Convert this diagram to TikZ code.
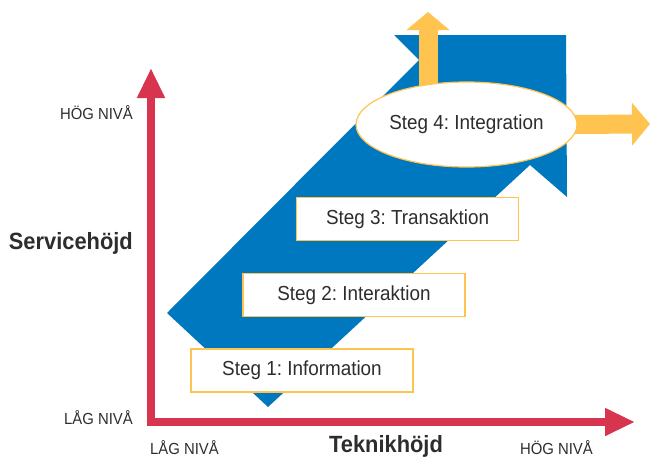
\documentclass[tikz,border=0pt]{standalone}
\usepackage{fontspec}
\setmainfont{Liberation Sans}[FakeStretch=0.93]
\usetikzlibrary{arrows.meta}
\usetikzlibrary{shapes.geometric}

\definecolor{bandblue}{RGB}{0,120,192}
\definecolor{axisred}{RGB}{215,52,79}
\definecolor{stepyellow}{RGB}{255,196,79}
\definecolor{textgray}{RGB}{45,45,45}

\begin{document}
\frenchspacing
\begin{tikzpicture}[x=1pt, y=-1pt,
    axis/.style={line width=8pt, axisred, {Triangle[width=26pt,length=30pt]}-{Triangle[width=26pt,length=30pt]}},
    block/.style={line width=19pt, stepyellow, -{Triangle[width=42pt,length=18pt]}},
    stepbox/.style={draw=stepyellow, line width=1.2pt, fill=white, minimum width=222pt, minimum height=43pt, inner sep=0pt, text=textgray, font=\fontsize{20.3}{24}\selectfont},
    level/.style={text=textgray, font=\fontsize{16}{19}\selectfont, inner sep=0pt},
    title/.style={text=textgray, font=\fontsize{23.5}{27}\bfseries, inner sep=0pt}]
  \useasboundingbox (0,0) rectangle (650,458);

  % the blue band with the notch at its upper end
  \fill[bandblue] (394,35) -- (566,35) -- (567,197) -- (530,165) -- (268,407)
    -- (167,313) -- (419,60) -- cycle;

  % level 4 and its two outgoing arrows
  \coordinate (uptip) at (428,12);
  \coordinate (righttip) at (650,124);
  \node[ellipse, minimum width=221pt, minimum height=85pt, inner sep=0pt] (int) at (466.5,124.5) {};
  \draw[block] (428,97) -- (uptip);
  \draw[block] (int.center) ++(100,0) -- (righttip);
  \node[ellipse, draw=stepyellow, line width=1.2pt, fill=white, minimum width=221pt, minimum height=85pt, inner sep=0pt, text=textgray, font=\fontsize{20.3}{24}\selectfont] (int) at (466.5,124.5) {Steg 4: Integration};

  % the three lower levels
  \node[stepbox] (info) at (302,370.5) {Steg 1: Information};
  \node[stepbox] (inter) at (354,295) {Steg 2: Interaktion};
  \node[stepbox] (trans) at (407.5,219) {Steg 3: Transaktion};

  % axes
  \coordinate (origin) at (151,422);
  \coordinate (ytip) at (151,68);
  \coordinate (xtip) at (635,422);
  \draw[axis] (ytip) -- (origin) -- (xtip);

  \node[level, anchor=east] (yhigh) at (133,113) {HÖG NIVÅ};
  \node[level, anchor=east] (ylow) at (133,418) {LÅG NIVÅ};
  \node[title, anchor=east] (ylabel) at (133,243) {Servicehöjd};
  \node[level, anchor=west] (xlow) at (150,448) {LÅG NIVÅ};
  \node[level, anchor=east] (xhigh) at (593,448) {HÖG NIVÅ};
  \node[title] (xlabel) at (386,446) {Teknikhöjd};
\end{tikzpicture}
\end{document}
